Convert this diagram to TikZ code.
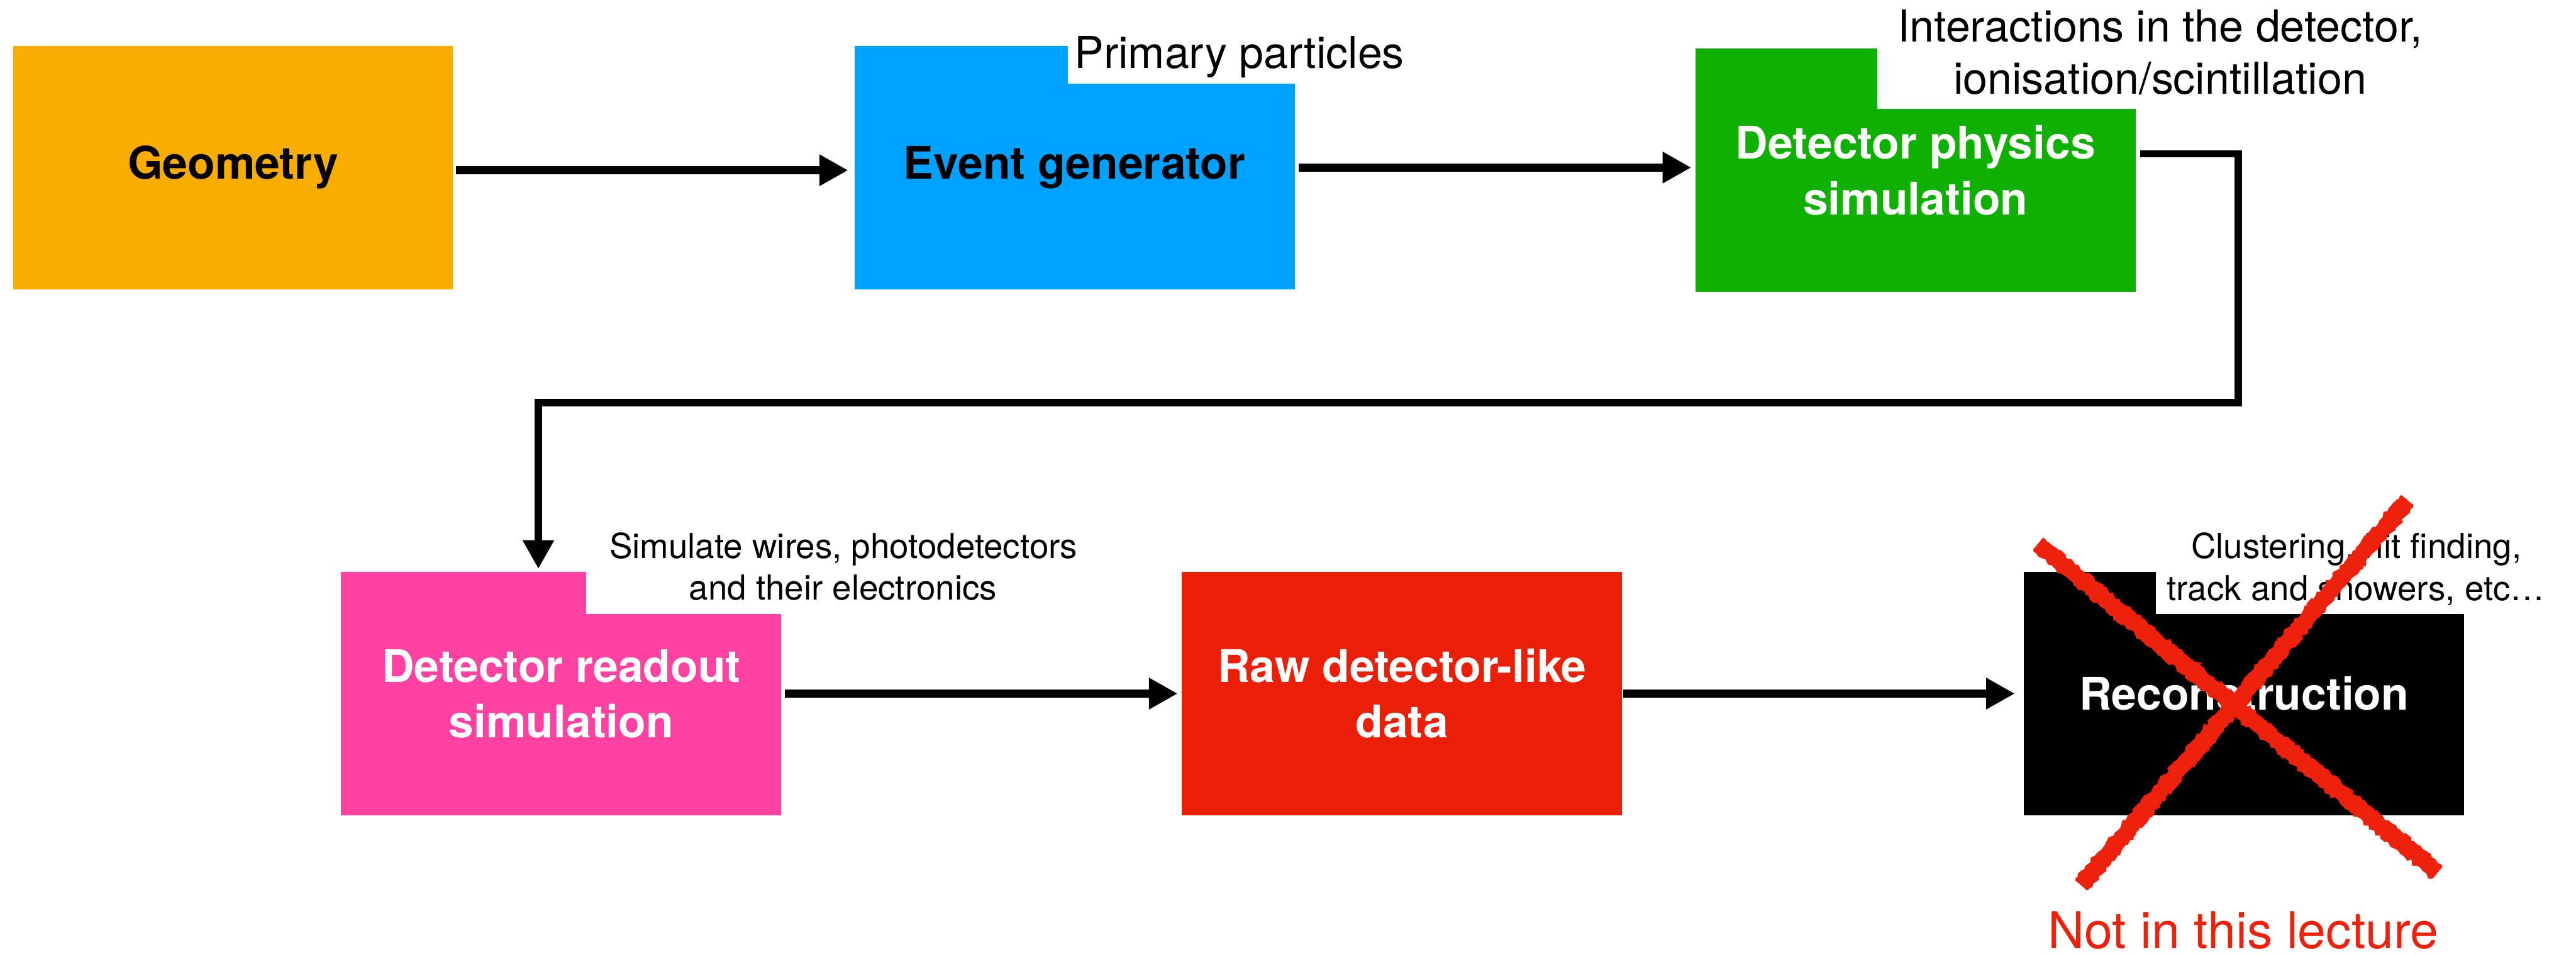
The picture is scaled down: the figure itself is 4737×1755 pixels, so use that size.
\documentclass[tikz,border=0pt]{standalone}
\usepackage{fontspec}
\setmainfont{TeX Gyre Heros}
\usetikzlibrary{arrows.meta,decorations.pathmorphing,calc}

\definecolor{geoorange}{HTML}{F9AD00}
\definecolor{genblue}{HTML}{00A2FF}
\definecolor{physgreen}{HTML}{10B000}
\definecolor{readpink}{HTML}{FF42A1}
\definecolor{rawred}{HTML}{EA1F07}
\definecolor{crossred}{HTML}{EE220C}

\begin{document}
\begin{tikzpicture}[x=0.01cm,y=-0.01cm,
  stage/.style={rectangle, inner sep=0pt, minimum width=8.09cm, minimum height=4.47cm,
    align=center, font=\fontsize{23.5}{29}\selectfont\bfseries},
  flow/.style={line width=4.2pt, -{Triangle[length=15pt,width=15.5pt]}},
  link/.style={line width=3.8pt, -{Triangle[length=15pt,width=15.5pt]}, line join=miter},
  note/.style={inner sep=0pt, anchor=base, font=\fontsize{23}{27.5}\selectfont},
  smallnote/.style={inner sep=0pt, anchor=base, font=\fontsize{18}{22}\selectfont},
  chalkcore/.style={line width=6pt, crossred, line cap=butt},
  chalk/.style={line width=2.2pt, crossred, line cap=round, decorate,
    decoration={random steps, segment length=1.6pt, amplitude=0.9pt}},
]
\useasboundingbox (0,0) rectangle (4737,1755);
\pgfmathsetseed{7}

% stages of the chain
\node[stage, fill=geoorange, text=black] (geo)   at (428.5,308) {Geometry};
\node[stage, fill=genblue,   text=black] (evgen) at (1976,308)  {Event generator};
\node[stage, fill=physgreen, text=white] (phys)  at (3522.5,313) {Detector physics\\simulation};
\node[stage, fill=readpink,  text=white] (read)  at (1032,1275) {Detector readout\\simulation};
\node[stage, fill=rawred,    text=white] (raw)   at (2578,1275) {Raw detector-like\\data};
\node[stage, fill=black,     text=white] (reco)  at (4126.5,1275) {Reconstruction};

% white corners carrying the annotations
\fill[white] (1964,154)  rectangle ([xshift=1mm,yshift=1mm]evgen.north east);
\fill[white] (3452,200)  rectangle ([xshift=1mm,yshift=1mm]phys.north east);
\fill[white] (1078,1129) rectangle ([xshift=1mm,yshift=1mm]read.north east);
\fill[white] (3964,1129) rectangle ([xshift=1mm,yshift=1mm]reco.north east);

% annotations
\node[note, anchor=base west] (primtxt) at (1975,126) {Primary particles};
\node[note] (inttxt)  at (3972,77)  {Interactions in the detector,};
\node[note] (iontxt)  at (3972,173) {ionisation/scintillation};
\node[smallnote] (simtxt)  at (1551,1026) {Simulate wires, photodetectors};
\node[smallnote] (elxtxt)  at (1550,1103) {and their electronics};
\node[smallnote] (clutxt)  at (4333,1026) {Clustering, hit finding,};
\node[smallnote] (trktxt)  at (4332,1104) {track and showers, etc…};

% connectors
\draw[flow, shorten <=0.05cm, shorten >=0.11cm] ([yshift=-0.5mm]geo.east) -- ([yshift=-0.5mm]evgen.west);
\draw[flow, shorten <=0.07cm, shorten >=0.07cm] (evgen.east) -- (evgen.east -| phys.west);
\coordinate (turn) at (4116,740);
\draw[link, shorten <=0.08cm, shorten >=0.05cm] ([yshift=3mm]phys.east) -| (turn) -| ([xshift=-4.2mm]read.north);
\draw[flow, shorten <=0.06cm, shorten >=0.07cm] (read.east) -- (raw.west);
\draw[flow, shorten <=0.01cm, shorten >=0.16cm] (raw.east) -- (reco.west);

% crossed out reconstruction step, drawn as a rough chalk stroke
\coordinate (xa1) at (3750,1002);
\coordinate (xb1) at (4480,1602);
\coordinate (xa2) at (4425,922);
\coordinate (xb2) at (3829,1625);
\draw[chalkcore] (xa1) -- (xb1);
\draw[chalkcore] (xa2) -- (xb2);
\foreach \d in {-0.12cm,-0.07cm,-0.02cm,0.03cm,0.08cm,0.12cm}{
  \draw[chalk] ($(xa1)!\d!90:(xb1)$) -- ($(xb1)!\d!-90:(xa1)$);
  \draw[chalk] ($(xa2)!\d!90:(xb2)$) -- ($(xb2)!\d!-90:(xa2)$);
}
\node[note, text=crossred, font=\fontsize{26.5}{30}\selectfont] (notlec) at (4125,1743) {Not in this lecture};
\end{tikzpicture}
\end{document}
